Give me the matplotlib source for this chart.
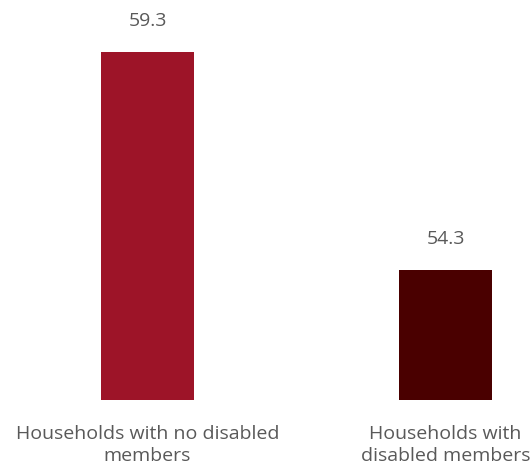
import matplotlib.pyplot as plt

categories = ["Households with no disabled\nmembers", "Households with\ndisabled members"]
values = [59.3, 54.3]
colors = ["#9d1428", "#4a0000"]

plt.rcParams['font.family'] = ['Open Sans', 'DejaVu Sans']

fig = plt.figure(figsize=(5.32, 4.69), dpi=100)
ax = fig.add_axes([0, 69 / 469, 1, 400 / 469])

x = [0, 1]
ax.bar(x, values, width=0.312, color=colors)
for xi, v in zip(x, values):
    ax.annotate(f"{v}", (xi, v), xytext=(0, 16), textcoords="offset points",
                ha="center", va="bottom", fontsize=14, color="#595959")

ax.set_ylim(51.318, 60.49)
ax.set_xlim(-0.495, 1.29)
ax.set_xticks(x)
ax.set_xticklabels(categories, fontsize=14, color="#595959", linespacing=1.25)
ax.tick_params(axis="x", length=0, pad=18)
ax.set_yticks([])
for s in ax.spines.values():
    s.set_visible(False)

fig.savefig("out.png", dpi=100)
